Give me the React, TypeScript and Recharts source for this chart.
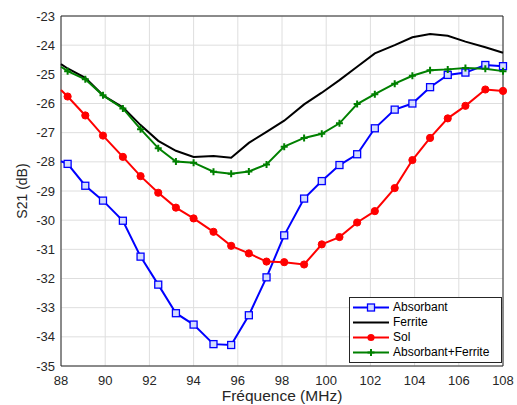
import React from "react"
import { CartesianGrid, Legend, Line, LineChart, ReferenceArea, XAxis, YAxis } from "recharts"

// frequency points (MHz) - the first one has no marker
const freq = [88, 88.3, 89.1, 89.9, 90.8, 91.6, 92.4, 93.2, 94.0, 94.9, 95.7, 96.5, 97.3, 98.1, 99.0, 99.8, 100.6, 101.4, 102.2, 103.1, 103.9, 104.7, 105.5, 106.3, 107.2, 108.0]

const absorbant = [-27.98, -28.07, -28.82, -29.33, -30.02, -31.25, -32.21, -33.19, -33.58, -34.25, -34.28, -33.26, -31.96, -30.52, -29.26, -28.66, -28.11, -27.74, -26.85, -26.21, -26.0, -25.44, -25.02, -24.94, -24.68, -24.72]
const ferrite = [-24.65, -24.8, -25.12, -25.72, -26.13, -26.74, -27.28, -27.62, -27.83, -27.8, -27.86, -27.35, -26.97, -26.59, -26.03, -25.63, -25.2, -24.74, -24.28, -24.0, -23.73, -23.62, -23.68, -23.88, -24.07, -24.26]
const sol = [-25.54, -25.76, -26.41, -27.1, -27.83, -28.49, -29.06, -29.57, -29.94, -30.4, -30.88, -31.14, -31.42, -31.44, -31.52, -30.83, -30.58, -30.08, -29.69, -28.9, -27.94, -27.18, -26.51, -26.08, -25.52, -25.57]
const absorbantFerrite = [-24.74, -24.89, -25.17, -25.72, -26.17, -26.88, -27.53, -27.99, -28.03, -28.34, -28.41, -28.33, -28.09, -27.48, -27.18, -27.04, -26.68, -26.02, -25.68, -25.32, -25.05, -24.86, -24.83, -24.78, -24.81, -24.89]

const xTicks = [88, 90, 92, 94, 96, 98, 100, 102, 104, 106, 108]
const yTicks = [-35, -34, -33, -32, -31, -30, -29, -28, -27, -26, -25, -24, -23]

const data = freq.map((f, i) => ({
    f,
    absorbant: absorbant[i],
    ferrite: ferrite[i],
    sol: sol[i],
    absorbantFerrite: absorbantFerrite[i],
}))

const FONT = "'Liberation Sans', Arial, Helvetica, sans-serif"
const AXIS = "#262626"
const BLUE = "#0000ff"
const RED = "#ff0000"
const GREEN = "#008000"

const squareDot = (props: any) => {
    const { cx, cy, index } = props
    if (index === 0) return <g key={`sq-${index}`} />
    return <rect key={`sq-${index}`} x={cx - 3.5} y={cy - 3.5} width={7} height={7} fill="#d4dcff" stroke={BLUE} strokeWidth={1.3} />
}

const circleDot = (props: any) => {
    const { cx, cy, index } = props
    if (index === 0) return <g key={`ci-${index}`} />
    return <circle key={`ci-${index}`} cx={cx} cy={cy} r={3.6} fill={RED} stroke={RED} />
}

const plusDot = (props: any) => {
    const { cx, cy, index } = props
    if (index === 0) return <g key={`pl-${index}`} />
    return (
        <path key={`pl-${index}`} d={`M${cx - 3.5},${cy}H${cx + 3.5}M${cx},${cy - 3.5}V${cy + 3.5}`} stroke={GREEN} strokeWidth={2} fill="none" />
    )
}

const legendItems = [
    { name: "Absorbant", color: BLUE, marker: "square" },
    { name: "Ferrite", color: "#000000", marker: "none" },
    { name: "Sol", color: RED, marker: "circle" },
    { name: "Absorbant+Ferrite", color: GREEN, marker: "plus" },
]

const renderLegend = () => (
    <div style={{ border: `1px solid ${AXIS}`, background: "#fff", padding: "2px 4px 2px 3px", fontFamily: FONT, fontSize: 12, color: "#000" }}>
        {legendItems.map((item) => (
            <div key={item.name} style={{ display: "flex", alignItems: "center", height: 15 }}>
                <svg width={37} height={15} style={{ marginRight: 3 }}>
                    <line x1={0} y1={7.5} x2={36} y2={7.5} stroke={item.color} strokeWidth={2} />
                    {item.marker === "square" && <rect x={14.5} y={4} width={7} height={7} fill="#d4dcff" stroke={BLUE} strokeWidth={1.3} />}
                    {item.marker === "circle" && <circle cx={18} cy={7.5} r={3.6} fill={RED} />}
                    {item.marker === "plus" && <path d="M14.5,7.5H21.5M18,4V11" stroke={GREEN} strokeWidth={2} />}
                </svg>
                <span style={{ lineHeight: "15px" }}>{item.name}</span>
            </div>
        ))}
    </div>
)

export default function App() {
    return (
        <div style={{ position: "absolute", left: 0, top: 0, width: 517, height: 405, background: "#fff" }}>
            <LineChart width={517} height={405} data={data} margin={{ top: 16, right: 14, bottom: 0, left: 0 }}>
                <CartesianGrid stroke="#dedede" strokeWidth={1} />
                <XAxis
                    dataKey="f"
                    type="number"
                    domain={[88, 108]}
                    ticks={xTicks}
                    height={39}
                    tickSize={0}
                    tickMargin={10}
                    axisLine={false}
                    tick={{ fill: AXIS, fontSize: 13, fontFamily: FONT }}
                    label={{ value: "Fréquence (MHz)", position: "insideBottom", offset: 4, fill: AXIS, fontSize: 15.5, fontFamily: FONT }}
                />
                <YAxis
                    type="number"
                    domain={[-35, -23]}
                    ticks={yTicks}
                    width={61}
                    tickSize={0}
                    tickMargin={6}
                    axisLine={false}
                    tick={{ fill: AXIS, fontSize: 13, fontFamily: FONT }}
                    label={{ value: "S21 (dB)", angle: -90, position: "insideLeft", offset: 22, fill: AXIS, fontSize: 14, fontFamily: FONT, style: { textAnchor: "middle" } }}
                />
                <ReferenceArea x1={88} x2={108} y1={-35} y2={-23} fill="none" fillOpacity={0} stroke={AXIS} strokeWidth={1} />
                <Line dataKey="absorbant" name="Absorbant" stroke={BLUE} strokeWidth={2} dot={squareDot} activeDot={false} isAnimationActive={false} />
                <Line dataKey="ferrite" name="Ferrite" stroke="#000000" strokeWidth={2} dot={false} activeDot={false} isAnimationActive={false} />
                <Line dataKey="sol" name="Sol" stroke={RED} strokeWidth={2} dot={circleDot} activeDot={false} isAnimationActive={false} />
                <Line dataKey="absorbantFerrite" name="Absorbant+Ferrite" stroke={GREEN} strokeWidth={2} dot={plusDot} activeDot={false} isAnimationActive={false} />
                <Legend
                    layout="horizontal"
                    verticalAlign="middle"
                    align="center"
                    content={renderLegend}
                    wrapperStyle={{ position: "absolute", left: 349, top: 297, width: 153, height: 65 }}
                />
            </LineChart>
        </div>
    )
}
